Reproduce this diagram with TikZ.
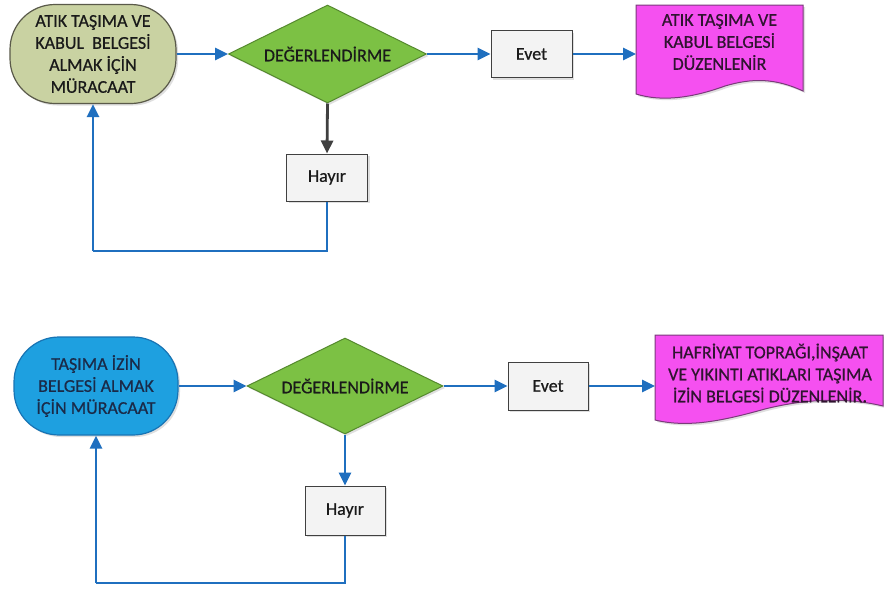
\documentclass[tikz,border=0pt]{standalone}
\usepackage{fontspec}
\setmainfont{Carlito}[FakeBold=0.6]
\usetikzlibrary{shapes.geometric,arrows.meta,shadows,backgrounds}
\definecolor{olivefill}{HTML}{C9D2A2}
\definecolor{oliveline}{HTML}{5A5A4A}
\definecolor{bluefill}{HTML}{1EA0E0}
\definecolor{blueline}{HTML}{1874B4}
\definecolor{greenfill}{HTML}{7CC144}
\definecolor{greenline}{HTML}{55892E}
\definecolor{magfill}{HTML}{F550F0}
\definecolor{magline}{HTML}{7A3A7A}
\definecolor{boxfill}{HTML}{F3F3F3}
\definecolor{boxline}{HTML}{404040}
\definecolor{arrblue}{HTML}{1F6FBF}
\definecolor{arrdark}{HTML}{404040}
\definecolor{txtdark}{HTML}{1A1A1A}
\definecolor{txtnavy}{HTML}{1A2A48}
\definecolor{txtmag}{HTML}{301430}
\begin{document}
\begin{tikzpicture}[x=1pt,y=-1pt,
  every node/.style={font=\fontsize{18}{22}\selectfont, align=center},
  shad/.style={drop shadow={opacity=0.25,shadow xshift=2pt,shadow yshift=-2pt}},
  term/.style={rectangle, rounded corners=45pt, minimum width=166pt, minimum height=99pt,
    line width=1.2pt, shad},
  diam/.style={diamond, shape aspect=2, minimum width=198pt, minimum height=98pt, inner sep=0pt,
    fill=greenfill, draw=greenline, line width=1pt, text=txtdark, shad},
  smallbox/.style={rectangle, minimum width=81pt, minimum height=47pt, fill=boxfill,
    draw=boxline, line width=1pt, text=txtdark, shad},
  doctxt/.style={inner sep=0pt, text=txtmag},
  arr/.style={draw=arrblue, line width=2.8pt, -{Triangle[length=13pt,width=12pt]}},
  darr/.style={draw=arrdark, line width=2.8pt, -{Triangle[length=13pt,width=12pt]}},
  conn/.style={draw=arrblue, line width=2.8pt},
  docshape/.style={fill=magfill, draw=magline, line width=1pt, shad}
]
\useasboundingbox[fill=white] (0,0) rectangle (884,592);

% ---------- top flow ----------
\node[term, fill=olivefill, draw=oliveline, text=txtdark] (t1) at (93,54)
  {ATIK TAŞIMA VE\\KABUL\ \ BELGESİ\\ALMAK İÇİN\\MÜRACAAT};
\node[diam] (d1) at (327.5,54) {DEĞERLENDİRME};
\node[smallbox] (e1) at (531.5,54) {Evet};
\node[smallbox] (h1) at (327,177.5) {Hayır};
\path[docshape] (636,5) -- (803,5) -- (803,91)
  .. controls (775,78) and (752,78) .. (725,86)
  .. controls (692,98) and (662,102) .. (636,94) -- cycle;
\node[doctxt] (doc1) at (719.5,42) {ATIK TAŞIMA VE\\KABUL BELGESİ\\DÜZENLENİR};
\coordinate (doc1in) at (636,54);

\draw[arr] (t1.east) -- (d1.west);
\draw[arr] (d1.east) -- (e1.west);
\draw[arr] (e1.east) -- (doc1in);
\draw[darr] (d1.south) -- (h1.north);
\coordinate (l1a) at (327,251);
\coordinate (l1b) at (93,251);
\draw[conn] (h1.south) -- (l1a) -- (l1b);
\draw[arr] (l1b) -- (t1.south);

% ---------- bottom flow ----------
\node[term, fill=bluefill, draw=blueline, text=txtnavy, minimum width=164pt, minimum height=98pt] (t2) at (96,386)
  {TAŞIMA İZİN\\BELGESİ ALMAK\\İÇİN MÜRACAAT};
\node[diam, minimum width=196pt, minimum height=96pt] (d2) at (345,386) {DEĞERLENDİRME};
\node[smallbox, minimum width=80pt, minimum height=48pt] (e2) at (548,386) {Evet};
\node[smallbox, minimum width=80pt, minimum height=49pt] (h2) at (345,510.5) {Hayır};
\path[docshape] (655,335) -- (883,335) -- (883,406)
  .. controls (845,397) and (805,399) .. (765,409)
  .. controls (722,421) and (688,428) .. (655,420) -- cycle;
\node[doctxt] (doc2) at (770,373) {HAFRİYAT TOPRAĞI,İNŞAAT\\VE YIKINTI ATIKLARI TAŞIMA\\İZİN BELGESİ DÜZENLENİR.};
\coordinate (doc2in) at (655,386);

\draw[arr] (t2.east) -- (d2.west);
\draw[arr] (d2.east) -- (e2.west);
\draw[arr] (e2.east) -- (doc2in);
\draw[arr] (d2.south) -- (h2.north);
\coordinate (l2a) at (345,583);
\coordinate (l2b) at (96,583);
\draw[conn] (h2.south) -- (l2a) -- (l2b);
\draw[arr] (l2b) -- (t2.south);
\end{tikzpicture}
\end{document}
